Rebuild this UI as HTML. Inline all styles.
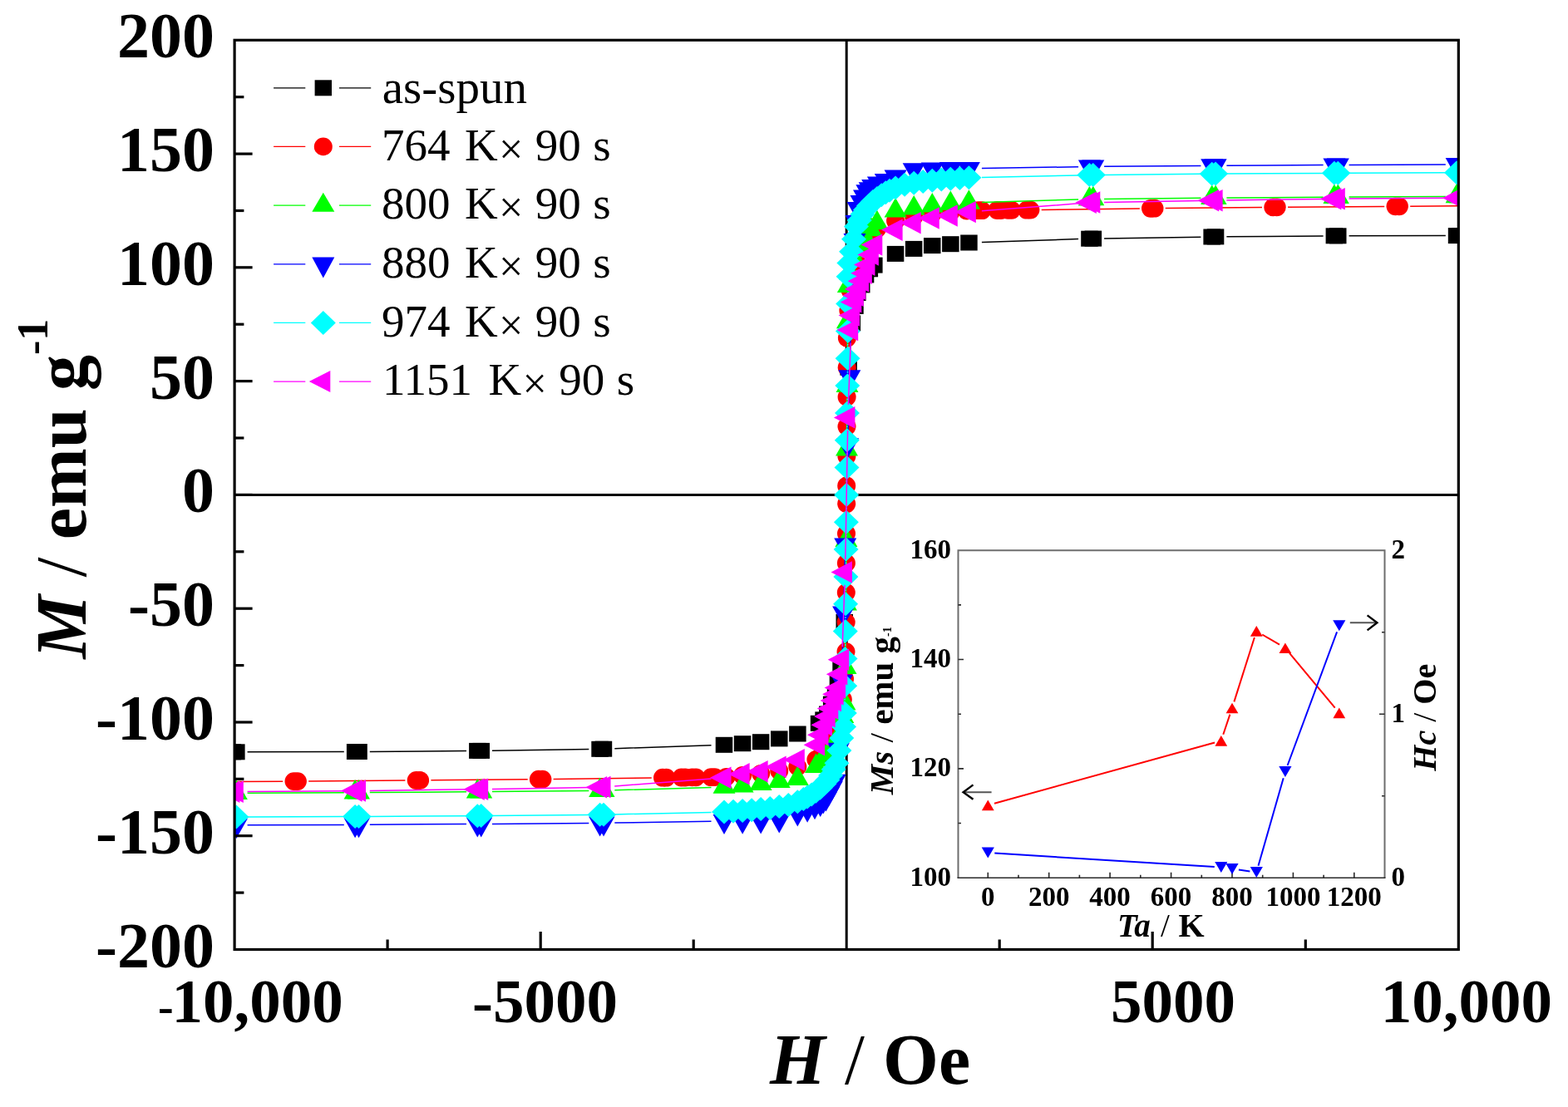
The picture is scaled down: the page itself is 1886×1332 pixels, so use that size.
<!DOCTYPE html><html><head><meta charset="utf-8"><style>html,body{margin:0;padding:0;background:#fff;}svg{display:block;}.b{font-family:"Liberation Serif","Times New Roman",serif;font-weight:bold;}.r{font-family:"Liberation Serif","Times New Roman",serif;font-weight:normal;}</style></head><body>
<svg width="1886" height="1332" viewBox="0 0 1886 1332">
<rect width="1886" height="1332" fill="#fff"/>
<g stroke="#000" stroke-width="3"><line x1="1018.2" y1="48.3" x2="1018.2" y2="1142.5"/><line x1="282.1" y1="595.4" x2="1754.3" y2="595.4"/></g>
<defs><clipPath id="pc"><rect x="282.1" y="48.3" width="1472.2" height="1094.2"/></clipPath></defs>
<g clip-path="url(#pc)">
<path d="M297.6 904.8L413.8 904.5M444.8 904.4L561.0 903.5M592.0 903.2L708.3 901.5M739.3 900.7L855.5 896.8M1012.8 786.2L1014.5 763.9M1016.0 733.0L1020.4 457.7M1021.9 426.8L1023.6 404.3M1180.9 291.5L1297.1 287.6M1328.1 286.9L1444.4 285.2M1475.4 284.8L1591.6 283.9M1622.6 283.8L1738.8 283.6" stroke="#000000" stroke-width="1.5" fill="none"/>
<rect x="269.6" y="895.3" width="20.5" height="19.0" fill="#000000"/>
<rect x="274.1" y="895.3" width="20.5" height="19.0" fill="#000000"/>
<rect x="416.9" y="895.0" width="20.5" height="19.0" fill="#000000"/>
<rect x="421.3" y="895.0" width="20.5" height="19.0" fill="#000000"/>
<rect x="564.1" y="893.9" width="20.5" height="19.0" fill="#000000"/>
<rect x="568.5" y="893.9" width="20.5" height="19.0" fill="#000000"/>
<rect x="711.3" y="891.8" width="20.5" height="19.0" fill="#000000"/>
<rect x="715.7" y="891.7" width="20.5" height="19.0" fill="#000000"/>
<rect x="860.7" y="886.8" width="20.5" height="19.0" fill="#000000"/>
<rect x="882.8" y="885.2" width="20.5" height="19.0" fill="#000000"/>
<rect x="904.9" y="883.2" width="20.5" height="19.0" fill="#000000"/>
<rect x="927.0" y="879.4" width="20.5" height="19.0" fill="#000000"/>
<rect x="949.1" y="873.5" width="20.5" height="19.0" fill="#000000"/>
<rect x="974.8" y="860.8" width="20.5" height="19.0" fill="#000000"/>
<rect x="980.3" y="856.4" width="20.5" height="19.0" fill="#000000"/>
<rect x="985.1" y="849.5" width="20.5" height="19.0" fill="#000000"/>
<rect x="989.9" y="837.6" width="20.5" height="19.0" fill="#000000"/>
<rect x="994.8" y="828.3" width="20.5" height="19.0" fill="#000000"/>
<rect x="997.7" y="812.5" width="20.5" height="19.0" fill="#000000"/>
<rect x="1001.3" y="792.2" width="20.5" height="19.0" fill="#000000"/>
<rect x="1005.5" y="739.0" width="20.5" height="19.0" fill="#000000"/>
<rect x="1010.4" y="432.7" width="20.5" height="19.0" fill="#000000"/>
<rect x="1014.6" y="379.4" width="20.5" height="19.0" fill="#000000"/>
<rect x="1018.2" y="358.9" width="20.5" height="19.0" fill="#000000"/>
<rect x="1021.1" y="343.0" width="20.5" height="19.0" fill="#000000"/>
<rect x="1026.0" y="333.4" width="20.5" height="19.0" fill="#000000"/>
<rect x="1030.8" y="321.4" width="20.5" height="19.0" fill="#000000"/>
<rect x="1035.6" y="314.3" width="20.5" height="19.0" fill="#000000"/>
<rect x="1041.1" y="309.6" width="20.5" height="19.0" fill="#000000"/>
<rect x="1066.8" y="295.9" width="20.5" height="19.0" fill="#000000"/>
<rect x="1088.9" y="289.9" width="20.5" height="19.0" fill="#000000"/>
<rect x="1111.0" y="286.1" width="20.5" height="19.0" fill="#000000"/>
<rect x="1133.1" y="284.2" width="20.5" height="19.0" fill="#000000"/>
<rect x="1155.2" y="282.5" width="20.5" height="19.0" fill="#000000"/>
<rect x="1300.2" y="277.7" width="20.5" height="19.0" fill="#000000"/>
<rect x="1304.6" y="277.6" width="20.5" height="19.0" fill="#000000"/>
<rect x="1447.4" y="275.5" width="20.5" height="19.0" fill="#000000"/>
<rect x="1451.8" y="275.4" width="20.5" height="19.0" fill="#000000"/>
<rect x="1594.6" y="274.3" width="20.5" height="19.0" fill="#000000"/>
<rect x="1599.0" y="274.3" width="20.5" height="19.0" fill="#000000"/>
<rect x="1741.8" y="274.1" width="20.5" height="19.0" fill="#000000"/>
<rect x="1746.3" y="274.0" width="20.5" height="19.0" fill="#000000"/>
<path d="M224.0 940.8L340.2 940.2M371.2 940.0L487.4 939.1M518.4 938.8L634.7 937.8M665.6 937.4L783.7 935.9M1016.7 801.4L1016.8 799.6M1017.6 768.6L1017.6 764.1M1017.7 733.1L1017.7 728.5M1017.8 697.5L1017.8 693.0M1018.0 662.0L1018.0 657.4M1018.1 626.4L1018.1 621.8M1018.3 569.0L1018.3 564.4M1018.4 533.4L1018.4 528.8M1018.6 497.8L1018.6 493.3M1018.7 462.3L1018.7 457.7M1018.8 426.7L1018.8 422.2M1019.6 391.2L1019.7 389.3M1252.7 252.4L1370.8 250.9M1401.7 250.6L1518.0 249.5M1549.0 249.2L1665.2 248.4M1696.2 248.2L1812.4 247.5" stroke="#ff0000" stroke-width="1.5" fill="none"/>
<ellipse cx="206.3" cy="940.9" rx="11.0" ry="10.9" fill="#ff0000"/>
<ellipse cx="210.7" cy="940.9" rx="11.0" ry="10.9" fill="#ff0000"/>
<ellipse cx="353.5" cy="940.1" rx="11.0" ry="10.9" fill="#ff0000"/>
<ellipse cx="357.9" cy="940.1" rx="11.0" ry="10.9" fill="#ff0000"/>
<ellipse cx="500.7" cy="939.0" rx="11.0" ry="10.9" fill="#ff0000"/>
<ellipse cx="505.1" cy="939.0" rx="11.0" ry="10.9" fill="#ff0000"/>
<ellipse cx="647.9" cy="937.6" rx="11.0" ry="10.9" fill="#ff0000"/>
<ellipse cx="652.4" cy="937.6" rx="11.0" ry="10.9" fill="#ff0000"/>
<ellipse cx="797.0" cy="935.7" rx="11.0" ry="10.9" fill="#ff0000"/>
<ellipse cx="801.4" cy="935.7" rx="11.0" ry="10.9" fill="#ff0000"/>
<ellipse cx="819.6" cy="935.5" rx="11.0" ry="10.9" fill="#ff0000"/>
<ellipse cx="824.0" cy="935.5" rx="11.0" ry="10.9" fill="#ff0000"/>
<ellipse cx="832.6" cy="935.4" rx="11.0" ry="10.9" fill="#ff0000"/>
<ellipse cx="837.0" cy="935.3" rx="11.0" ry="10.9" fill="#ff0000"/>
<ellipse cx="855.3" cy="935.2" rx="11.0" ry="10.9" fill="#ff0000"/>
<ellipse cx="859.7" cy="935.1" rx="11.0" ry="10.9" fill="#ff0000"/>
<ellipse cx="873.6" cy="934.8" rx="11.0" ry="10.9" fill="#ff0000"/>
<ellipse cx="893.1" cy="933.0" rx="11.0" ry="10.9" fill="#ff0000"/>
<ellipse cx="915.1" cy="930.8" rx="11.0" ry="10.9" fill="#ff0000"/>
<ellipse cx="937.2" cy="927.5" rx="11.0" ry="10.9" fill="#ff0000"/>
<ellipse cx="959.3" cy="922.6" rx="11.0" ry="10.9" fill="#ff0000"/>
<ellipse cx="981.4" cy="913.9" rx="11.0" ry="10.9" fill="#ff0000"/>
<ellipse cx="988.8" cy="907.4" rx="11.0" ry="10.9" fill="#ff0000"/>
<ellipse cx="996.1" cy="900.9" rx="11.0" ry="10.9" fill="#ff0000"/>
<ellipse cx="1002.0" cy="888.0" rx="11.0" ry="10.9" fill="#ff0000"/>
<ellipse cx="1007.2" cy="876.7" rx="11.0" ry="10.9" fill="#ff0000"/>
<ellipse cx="1010.8" cy="857.1" rx="11.0" ry="10.9" fill="#ff0000"/>
<ellipse cx="1013.8" cy="841.4" rx="11.0" ry="10.9" fill="#ff0000"/>
<ellipse cx="1016.0" cy="816.9" rx="11.0" ry="10.9" fill="#ff0000"/>
<ellipse cx="1017.5" cy="784.1" rx="11.0" ry="10.9" fill="#ff0000"/>
<ellipse cx="1017.7" cy="748.6" rx="11.0" ry="10.9" fill="#ff0000"/>
<ellipse cx="1017.8" cy="713.0" rx="11.0" ry="10.9" fill="#ff0000"/>
<ellipse cx="1017.9" cy="677.5" rx="11.0" ry="10.9" fill="#ff0000"/>
<ellipse cx="1018.0" cy="641.9" rx="11.0" ry="10.9" fill="#ff0000"/>
<ellipse cx="1018.2" cy="606.3" rx="11.0" ry="10.9" fill="#ff0000"/>
<ellipse cx="1018.2" cy="584.5" rx="11.0" ry="10.9" fill="#ff0000"/>
<ellipse cx="1018.4" cy="548.9" rx="11.0" ry="10.9" fill="#ff0000"/>
<ellipse cx="1018.5" cy="513.3" rx="11.0" ry="10.9" fill="#ff0000"/>
<ellipse cx="1018.6" cy="477.8" rx="11.0" ry="10.9" fill="#ff0000"/>
<ellipse cx="1018.7" cy="442.2" rx="11.0" ry="10.9" fill="#ff0000"/>
<ellipse cx="1018.9" cy="406.7" rx="11.0" ry="10.9" fill="#ff0000"/>
<ellipse cx="1020.4" cy="373.8" rx="11.0" ry="10.9" fill="#ff0000"/>
<ellipse cx="1022.6" cy="349.2" rx="11.0" ry="10.9" fill="#ff0000"/>
<ellipse cx="1025.6" cy="333.4" rx="11.0" ry="10.9" fill="#ff0000"/>
<ellipse cx="1029.2" cy="313.6" rx="11.0" ry="10.9" fill="#ff0000"/>
<ellipse cx="1034.4" cy="302.2" rx="11.0" ry="10.9" fill="#ff0000"/>
<ellipse cx="1040.3" cy="289.0" rx="11.0" ry="10.9" fill="#ff0000"/>
<ellipse cx="1047.6" cy="282.2" rx="11.0" ry="10.9" fill="#ff0000"/>
<ellipse cx="1055.0" cy="275.3" rx="11.0" ry="10.9" fill="#ff0000"/>
<ellipse cx="1077.1" cy="265.8" rx="11.0" ry="10.9" fill="#ff0000"/>
<ellipse cx="1099.2" cy="260.8" rx="11.0" ry="10.9" fill="#ff0000"/>
<ellipse cx="1121.3" cy="257.6" rx="11.0" ry="10.9" fill="#ff0000"/>
<ellipse cx="1143.3" cy="255.4" rx="11.0" ry="10.9" fill="#ff0000"/>
<ellipse cx="1162.8" cy="253.5" rx="11.0" ry="10.9" fill="#ff0000"/>
<ellipse cx="1176.7" cy="253.2" rx="11.0" ry="10.9" fill="#ff0000"/>
<ellipse cx="1181.1" cy="253.2" rx="11.0" ry="10.9" fill="#ff0000"/>
<ellipse cx="1199.4" cy="253.0" rx="11.0" ry="10.9" fill="#ff0000"/>
<ellipse cx="1203.8" cy="253.0" rx="11.0" ry="10.9" fill="#ff0000"/>
<ellipse cx="1212.4" cy="252.9" rx="11.0" ry="10.9" fill="#ff0000"/>
<ellipse cx="1216.8" cy="252.8" rx="11.0" ry="10.9" fill="#ff0000"/>
<ellipse cx="1235.0" cy="252.7" rx="11.0" ry="10.9" fill="#ff0000"/>
<ellipse cx="1239.4" cy="252.6" rx="11.0" ry="10.9" fill="#ff0000"/>
<ellipse cx="1384.0" cy="250.8" rx="11.0" ry="10.9" fill="#ff0000"/>
<ellipse cx="1388.5" cy="250.7" rx="11.0" ry="10.9" fill="#ff0000"/>
<ellipse cx="1531.3" cy="249.4" rx="11.0" ry="10.9" fill="#ff0000"/>
<ellipse cx="1535.7" cy="249.3" rx="11.0" ry="10.9" fill="#ff0000"/>
<ellipse cx="1678.5" cy="248.3" rx="11.0" ry="10.9" fill="#ff0000"/>
<ellipse cx="1682.9" cy="248.3" rx="11.0" ry="10.9" fill="#ff0000"/>
<ellipse cx="1825.7" cy="247.5" rx="11.0" ry="10.9" fill="#ff0000"/>
<ellipse cx="1830.1" cy="247.4" rx="11.0" ry="10.9" fill="#ff0000"/>
<path d="M297.6 954.2L413.8 953.8M444.8 953.6L561.0 952.8M592.0 952.5L708.3 951.4M739.3 950.8L855.5 947.4M1016.3 831.2L1016.6 818.8M1017.0 787.8L1017.3 742.2M1017.5 711.2L1017.8 665.6M1018.0 634.6L1018.4 556.2M1018.6 525.2L1018.9 479.6M1019.1 448.6L1019.4 403.0M1019.8 372.0L1020.1 359.6M1180.9 243.4L1297.1 240.0M1328.1 239.4L1444.4 238.3M1475.4 238.0L1591.6 237.2M1622.6 237.0L1738.8 236.6" stroke="#00ff00" stroke-width="1.5" fill="none"/>
<path d="M279.9 938.6L293.4 962.1L266.4 962.1Z" fill="#00ff00"/>
<path d="M284.3 938.6L297.8 962.1L270.8 962.1Z" fill="#00ff00"/>
<path d="M427.1 938.1L440.6 961.6L413.6 961.6Z" fill="#00ff00"/>
<path d="M431.5 938.1L445.0 961.6L418.0 961.6Z" fill="#00ff00"/>
<path d="M574.3 937.0L587.8 960.5L560.8 960.5Z" fill="#00ff00"/>
<path d="M578.7 937.0L592.2 960.5L565.2 960.5Z" fill="#00ff00"/>
<path d="M721.6 935.6L735.1 959.1L708.1 959.1Z" fill="#00ff00"/>
<path d="M726.0 935.6L739.5 959.1L712.5 959.1Z" fill="#00ff00"/>
<path d="M871.0 931.3L884.5 954.8L857.5 954.8Z" fill="#00ff00"/>
<path d="M893.1 929.9L906.6 953.4L879.6 953.4Z" fill="#00ff00"/>
<path d="M915.1 927.5L928.6 951.0L901.6 951.0Z" fill="#00ff00"/>
<path d="M937.2 924.6L950.7 948.1L923.7 948.1Z" fill="#00ff00"/>
<path d="M959.3 921.4L972.8 944.9L945.8 944.9Z" fill="#00ff00"/>
<path d="M981.5 906.6L995.0 930.1L968.0 930.1Z" fill="#00ff00"/>
<path d="M988.8 898.6L1002.3 922.1L975.3 922.1Z" fill="#00ff00"/>
<path d="M996.4 890.2L1009.9 913.7L982.9 913.7Z" fill="#00ff00"/>
<path d="M1002.0 881.2L1015.5 904.7L988.5 904.7Z" fill="#00ff00"/>
<path d="M1007.2 872.9L1020.7 896.4L993.7 896.4Z" fill="#00ff00"/>
<path d="M1010.8 867.0L1024.3 890.5L997.3 890.5Z" fill="#00ff00"/>
<path d="M1013.8 846.4L1027.3 869.9L1000.3 869.9Z" fill="#00ff00"/>
<path d="M1016.0 831.1L1029.5 854.6L1002.5 854.6Z" fill="#00ff00"/>
<path d="M1017.0 787.6L1030.5 811.1L1003.5 811.1Z" fill="#00ff00"/>
<path d="M1017.4 711.0L1030.9 734.5L1003.9 734.5Z" fill="#00ff00"/>
<path d="M1017.9 634.4L1031.4 657.9L1004.4 657.9Z" fill="#00ff00"/>
<path d="M1018.5 525.0L1032.0 548.5L1005.0 548.5Z" fill="#00ff00"/>
<path d="M1019.0 448.4L1032.5 471.9L1005.5 471.9Z" fill="#00ff00"/>
<path d="M1019.4 371.8L1032.9 395.3L1005.9 395.3Z" fill="#00ff00"/>
<path d="M1020.4 328.4L1033.9 351.9L1006.9 351.9Z" fill="#00ff00"/>
<path d="M1022.6 313.0L1036.1 336.5L1009.1 336.5Z" fill="#00ff00"/>
<path d="M1025.6 292.5L1039.1 316.0L1012.1 316.0Z" fill="#00ff00"/>
<path d="M1029.2 286.6L1042.7 310.1L1015.7 310.1Z" fill="#00ff00"/>
<path d="M1034.4 278.3L1047.9 301.8L1020.9 301.8Z" fill="#00ff00"/>
<path d="M1040.0 269.3L1053.5 292.8L1026.5 292.8Z" fill="#00ff00"/>
<path d="M1047.6 260.8L1061.1 284.3L1034.1 284.3Z" fill="#00ff00"/>
<path d="M1054.9 252.8L1068.4 276.3L1041.4 276.3Z" fill="#00ff00"/>
<path d="M1077.1 238.1L1090.6 261.6L1063.6 261.6Z" fill="#00ff00"/>
<path d="M1099.2 234.9L1112.7 258.4L1085.7 258.4Z" fill="#00ff00"/>
<path d="M1121.3 231.9L1134.8 255.4L1107.8 255.4Z" fill="#00ff00"/>
<path d="M1143.3 229.5L1156.8 253.0L1129.8 253.0Z" fill="#00ff00"/>
<path d="M1165.4 228.2L1178.9 251.7L1151.9 251.7Z" fill="#00ff00"/>
<path d="M1310.4 223.9L1323.9 247.4L1296.9 247.4Z" fill="#00ff00"/>
<path d="M1314.8 223.8L1328.3 247.3L1301.3 247.3Z" fill="#00ff00"/>
<path d="M1457.7 222.5L1471.2 246.0L1444.2 246.0Z" fill="#00ff00"/>
<path d="M1462.1 222.5L1475.6 246.0L1448.6 246.0Z" fill="#00ff00"/>
<path d="M1604.9 221.4L1618.4 244.9L1591.4 244.9Z" fill="#00ff00"/>
<path d="M1609.3 221.4L1622.8 244.9L1595.8 244.9Z" fill="#00ff00"/>
<path d="M1752.1 220.8L1765.6 244.3L1738.6 244.3Z" fill="#00ff00"/>
<path d="M1756.5 220.8L1770.0 244.3L1743.0 244.3Z" fill="#00ff00"/>
<path d="M297.6 992.8L413.8 992.4M444.8 992.2L561.0 991.6M592.0 991.4L708.3 990.5M739.3 990.1L855.5 988.2M1009.2 886.3L1011.7 835.2M1012.8 804.2L1014.2 753.1M1015.0 722.2L1016.3 671.1M1017.1 640.1L1019.3 550.7M1020.1 519.7L1021.4 468.6M1022.2 437.7L1023.6 386.6M1024.7 355.6L1027.2 304.5M1180.9 202.6L1297.1 200.7M1328.1 200.3L1444.4 199.4M1475.4 199.2L1591.6 198.6M1622.6 198.4L1738.8 198.0" stroke="#0000ff" stroke-width="1.5" fill="none"/>
<path d="M279.9 1008.9L293.4 984.9L266.4 984.9Z" fill="#0000ff"/>
<path d="M284.3 1008.9L297.8 984.9L270.8 984.9Z" fill="#0000ff"/>
<path d="M427.1 1008.3L440.6 984.3L413.6 984.3Z" fill="#0000ff"/>
<path d="M431.5 1008.3L445.0 984.3L418.0 984.3Z" fill="#0000ff"/>
<path d="M574.3 1007.5L587.8 983.5L560.8 983.5Z" fill="#0000ff"/>
<path d="M578.7 1007.5L592.2 983.5L565.2 983.5Z" fill="#0000ff"/>
<path d="M721.6 1006.4L735.1 982.4L708.1 982.4Z" fill="#0000ff"/>
<path d="M726.0 1006.4L739.5 982.4L712.5 982.4Z" fill="#0000ff"/>
<path d="M871.0 1003.9L884.5 979.9L857.5 979.9Z" fill="#0000ff"/>
<path d="M893.1 1003.7L906.6 979.7L879.6 979.7Z" fill="#0000ff"/>
<path d="M915.1 1003.4L928.6 979.4L901.6 979.4Z" fill="#0000ff"/>
<path d="M937.2 1002.6L950.7 978.6L923.7 978.6Z" fill="#0000ff"/>
<path d="M959.3 994.4L972.8 970.4L945.8 970.4Z" fill="#0000ff"/>
<path d="M971.1 989.7L984.6 965.7L957.6 965.7Z" fill="#0000ff"/>
<path d="M980.0 986.2L993.5 962.2L966.5 962.2Z" fill="#0000ff"/>
<path d="M986.7 982.9L1000.2 958.9L973.2 958.9Z" fill="#0000ff"/>
<path d="M990.2 979.6L1003.7 955.6L976.7 955.6Z" fill="#0000ff"/>
<path d="M993.5 976.6L1007.0 952.6L980.0 952.6Z" fill="#0000ff"/>
<path d="M996.9 970.3L1010.4 946.3L983.4 946.3Z" fill="#0000ff"/>
<path d="M1000.4 963.7L1013.9 939.7L986.9 939.7Z" fill="#0000ff"/>
<path d="M1004.2 955.8L1017.7 931.8L990.7 931.8Z" fill="#0000ff"/>
<path d="M1006.4 939.7L1019.9 915.7L992.9 915.7Z" fill="#0000ff"/>
<path d="M1008.4 917.8L1021.9 893.8L994.9 893.8Z" fill="#0000ff"/>
<path d="M1012.5 835.7L1026.0 811.7L999.0 811.7Z" fill="#0000ff"/>
<path d="M1014.6 753.6L1028.1 729.6L1001.1 729.6Z" fill="#0000ff"/>
<path d="M1016.7 671.6L1030.2 647.6L1003.2 647.6Z" fill="#0000ff"/>
<path d="M1019.7 551.2L1033.2 527.2L1006.2 527.2Z" fill="#0000ff"/>
<path d="M1021.8 469.2L1035.3 445.2L1008.3 445.2Z" fill="#0000ff"/>
<path d="M1023.9 387.1L1037.4 363.1L1010.4 363.1Z" fill="#0000ff"/>
<path d="M1028.0 305.0L1041.5 281.0L1014.5 281.0Z" fill="#0000ff"/>
<path d="M1030.0 283.1L1043.5 259.1L1016.5 259.1Z" fill="#0000ff"/>
<path d="M1032.2 267.0L1045.7 243.0L1018.7 243.0Z" fill="#0000ff"/>
<path d="M1036.0 259.1L1049.5 235.1L1022.5 235.1Z" fill="#0000ff"/>
<path d="M1039.5 252.5L1053.0 228.5L1026.0 228.5Z" fill="#0000ff"/>
<path d="M1042.9 246.2L1056.4 222.2L1029.4 222.2Z" fill="#0000ff"/>
<path d="M1046.2 243.2L1059.7 219.2L1032.7 219.2Z" fill="#0000ff"/>
<path d="M1049.7 239.9L1063.2 215.9L1036.2 215.9Z" fill="#0000ff"/>
<path d="M1056.4 236.6L1069.9 212.6L1042.9 212.6Z" fill="#0000ff"/>
<path d="M1065.3 233.1L1078.8 209.1L1051.8 209.1Z" fill="#0000ff"/>
<path d="M1077.1 228.4L1090.6 204.4L1063.6 204.4Z" fill="#0000ff"/>
<path d="M1099.2 220.2L1112.7 196.2L1085.7 196.2Z" fill="#0000ff"/>
<path d="M1121.3 219.4L1134.8 195.4L1107.8 195.4Z" fill="#0000ff"/>
<path d="M1143.3 219.1L1156.8 195.1L1129.8 195.1Z" fill="#0000ff"/>
<path d="M1165.4 218.9L1178.9 194.9L1151.9 194.9Z" fill="#0000ff"/>
<path d="M1310.4 216.4L1323.9 192.4L1296.9 192.4Z" fill="#0000ff"/>
<path d="M1314.8 216.4L1328.3 192.4L1301.3 192.4Z" fill="#0000ff"/>
<path d="M1457.7 215.3L1471.2 191.3L1444.2 191.3Z" fill="#0000ff"/>
<path d="M1462.1 215.3L1475.6 191.3L1448.6 191.3Z" fill="#0000ff"/>
<path d="M1604.9 214.5L1618.4 190.5L1591.4 190.5Z" fill="#0000ff"/>
<path d="M1609.3 214.5L1622.8 190.5L1595.8 190.5Z" fill="#0000ff"/>
<path d="M1752.1 213.9L1765.6 189.9L1738.6 189.9Z" fill="#0000ff"/>
<path d="M1756.5 213.9L1770.0 189.9L1743.0 189.9Z" fill="#0000ff"/>
<path d="M297.6 983.0L413.8 982.5M444.8 982.4L561.0 981.7M592.0 981.5L708.3 980.4M739.3 979.9L855.5 977.4M1016.0 842.5L1016.1 840.7M1016.4 809.7L1016.4 807.9M1016.7 776.9L1016.7 775.0M1016.9 744.0L1017.0 742.2M1017.2 711.2L1017.2 709.4M1017.5 678.4L1017.5 676.6M1017.8 645.6L1017.8 643.7M1018.1 612.7L1018.1 610.9M1018.3 579.9L1018.3 578.1M1018.6 547.1L1018.6 545.2M1018.9 514.2L1018.9 512.4M1019.2 481.4L1019.2 479.6M1019.4 448.6L1019.5 446.8M1019.7 415.8L1019.7 413.9M1020.0 382.9L1020.0 381.1M1020.3 350.1L1020.4 348.3M1180.9 213.4L1297.1 210.9M1328.1 210.4L1444.4 209.3M1475.4 209.1L1591.6 208.4M1622.6 208.3L1738.8 207.8" stroke="#00ffff" stroke-width="1.5" fill="none"/>
<path d="M279.9 968.5L294.9 983.0L279.9 997.5L264.9 983.0Z" fill="#00ffff"/>
<path d="M284.3 968.5L299.3 983.0L284.3 997.5L269.3 983.0Z" fill="#00ffff"/>
<path d="M427.1 968.0L442.1 982.5L427.1 997.0L412.1 982.5Z" fill="#00ffff"/>
<path d="M431.5 968.0L446.5 982.5L431.5 997.0L416.5 982.5Z" fill="#00ffff"/>
<path d="M574.3 967.2L589.3 981.7L574.3 996.2L559.3 981.7Z" fill="#00ffff"/>
<path d="M578.7 967.1L593.7 981.6L578.7 996.1L563.7 981.6Z" fill="#00ffff"/>
<path d="M721.6 965.8L736.6 980.3L721.6 994.8L706.6 980.3Z" fill="#00ffff"/>
<path d="M726.0 965.7L741.0 980.2L726.0 994.7L711.0 980.2Z" fill="#00ffff"/>
<path d="M871.0 962.5L886.0 977.0L871.0 991.5L856.0 977.0Z" fill="#00ffff"/>
<path d="M882.0 961.8L897.0 976.3L882.0 990.8L867.0 976.3Z" fill="#00ffff"/>
<path d="M893.1 961.1L908.1 975.6L893.1 990.1L878.1 975.6Z" fill="#00ffff"/>
<path d="M904.1 960.3L919.1 974.8L904.1 989.3L889.1 974.8Z" fill="#00ffff"/>
<path d="M915.1 959.1L930.1 973.6L915.1 988.1L900.1 973.6Z" fill="#00ffff"/>
<path d="M926.2 957.9L941.2 972.4L926.2 986.9L911.2 972.4Z" fill="#00ffff"/>
<path d="M937.2 956.0L952.2 970.5L937.2 985.0L922.2 970.5Z" fill="#00ffff"/>
<path d="M948.3 954.0L963.3 968.5L948.3 983.0L933.3 968.5Z" fill="#00ffff"/>
<path d="M959.3 950.3L974.3 964.8L959.3 979.3L944.3 964.8Z" fill="#00ffff"/>
<path d="M966.4 947.0L981.4 961.5L966.4 976.0L951.4 961.5Z" fill="#00ffff"/>
<path d="M971.1 944.5L986.1 959.0L971.1 973.5L956.1 959.0Z" fill="#00ffff"/>
<path d="M976.2 941.5L991.2 956.0L976.2 970.5L961.2 956.0Z" fill="#00ffff"/>
<path d="M981.4 937.8L996.4 952.3L981.4 966.8L966.4 952.3Z" fill="#00ffff"/>
<path d="M986.5 933.7L1001.5 948.2L986.5 962.7L971.5 948.2Z" fill="#00ffff"/>
<path d="M991.4 928.8L1006.4 943.3L991.4 957.8L976.4 943.3Z" fill="#00ffff"/>
<path d="M995.4 923.9L1010.4 938.4L995.4 952.9L980.4 938.4Z" fill="#00ffff"/>
<path d="M999.1 918.4L1014.1 932.9L999.1 947.4L984.1 932.9Z" fill="#00ffff"/>
<path d="M1002.7 911.3L1017.7 925.8L1002.7 940.3L987.7 925.8Z" fill="#00ffff"/>
<path d="M1006.4 903.7L1021.4 918.2L1006.4 932.7L991.4 918.2Z" fill="#00ffff"/>
<path d="M1009.4 888.6L1024.4 903.1L1009.4 917.6L994.4 903.1Z" fill="#00ffff"/>
<path d="M1012.3 873.5L1027.3 888.0L1012.3 902.5L997.3 888.0Z" fill="#00ffff"/>
<path d="M1015.0 859.9L1030.0 874.4L1015.0 888.9L1000.0 874.4Z" fill="#00ffff"/>
<path d="M1015.8 843.5L1030.8 858.0L1015.8 872.5L1000.8 858.0Z" fill="#00ffff"/>
<path d="M1016.2 810.7L1031.2 825.2L1016.2 839.7L1001.2 825.2Z" fill="#00ffff"/>
<path d="M1016.5 777.9L1031.5 792.4L1016.5 806.9L1001.5 792.4Z" fill="#00ffff"/>
<path d="M1016.8 745.0L1031.8 759.5L1016.8 774.0L1001.8 759.5Z" fill="#00ffff"/>
<path d="M1017.1 712.2L1032.1 726.7L1017.1 741.2L1002.1 726.7Z" fill="#00ffff"/>
<path d="M1017.4 679.4L1032.4 693.9L1017.4 708.4L1002.4 693.9Z" fill="#00ffff"/>
<path d="M1017.6 646.6L1032.6 661.1L1017.6 675.6L1002.6 661.1Z" fill="#00ffff"/>
<path d="M1017.9 613.7L1032.9 628.2L1017.9 642.7L1002.9 628.2Z" fill="#00ffff"/>
<path d="M1018.2 580.9L1033.2 595.4L1018.2 609.9L1003.2 595.4Z" fill="#00ffff"/>
<path d="M1018.5 548.1L1033.5 562.6L1018.5 577.1L1003.5 562.6Z" fill="#00ffff"/>
<path d="M1018.8 515.2L1033.8 529.7L1018.8 544.2L1003.8 529.7Z" fill="#00ffff"/>
<path d="M1019.0 482.4L1034.0 496.9L1019.0 511.4L1004.0 496.9Z" fill="#00ffff"/>
<path d="M1019.3 449.6L1034.3 464.1L1019.3 478.6L1004.3 464.1Z" fill="#00ffff"/>
<path d="M1019.6 416.8L1034.6 431.3L1019.6 445.8L1004.6 431.3Z" fill="#00ffff"/>
<path d="M1019.9 383.9L1034.9 398.4L1019.9 412.9L1004.9 398.4Z" fill="#00ffff"/>
<path d="M1020.2 351.1L1035.2 365.6L1020.2 380.1L1005.2 365.6Z" fill="#00ffff"/>
<path d="M1020.6 318.3L1035.6 332.8L1020.6 347.3L1005.6 332.8Z" fill="#00ffff"/>
<path d="M1021.4 301.9L1036.4 316.4L1021.4 330.9L1006.4 316.4Z" fill="#00ffff"/>
<path d="M1024.1 288.3L1039.1 302.8L1024.1 317.3L1009.1 302.8Z" fill="#00ffff"/>
<path d="M1027.0 273.2L1042.0 287.7L1027.0 302.2L1012.0 287.7Z" fill="#00ffff"/>
<path d="M1030.0 258.1L1045.0 272.6L1030.0 287.1L1015.0 272.6Z" fill="#00ffff"/>
<path d="M1033.7 250.5L1048.7 265.0L1033.7 279.5L1018.7 265.0Z" fill="#00ffff"/>
<path d="M1037.3 243.4L1052.3 257.9L1037.3 272.4L1022.3 257.9Z" fill="#00ffff"/>
<path d="M1041.0 237.9L1056.0 252.4L1041.0 266.9L1026.0 252.4Z" fill="#00ffff"/>
<path d="M1045.0 233.0L1060.0 247.5L1045.0 262.0L1030.0 247.5Z" fill="#00ffff"/>
<path d="M1049.9 228.1L1064.9 242.6L1049.9 257.1L1034.9 242.6Z" fill="#00ffff"/>
<path d="M1055.0 224.0L1070.0 238.5L1055.0 253.0L1040.0 238.5Z" fill="#00ffff"/>
<path d="M1060.2 220.3L1075.2 234.8L1060.2 249.3L1045.2 234.8Z" fill="#00ffff"/>
<path d="M1065.3 217.3L1080.3 231.8L1065.3 246.3L1050.3 231.8Z" fill="#00ffff"/>
<path d="M1070.0 214.8L1085.0 229.3L1070.0 243.8L1055.0 229.3Z" fill="#00ffff"/>
<path d="M1077.1 211.5L1092.1 226.0L1077.1 240.5L1062.1 226.0Z" fill="#00ffff"/>
<path d="M1088.1 207.8L1103.1 222.3L1088.1 236.8L1073.1 222.3Z" fill="#00ffff"/>
<path d="M1099.2 205.8L1114.2 220.3L1099.2 234.8L1084.2 220.3Z" fill="#00ffff"/>
<path d="M1110.2 203.9L1125.2 218.4L1110.2 232.9L1095.2 218.4Z" fill="#00ffff"/>
<path d="M1121.3 202.7L1136.3 217.2L1121.3 231.7L1106.3 217.2Z" fill="#00ffff"/>
<path d="M1132.3 201.5L1147.3 216.0L1132.3 230.5L1117.3 216.0Z" fill="#00ffff"/>
<path d="M1143.3 200.7L1158.3 215.2L1143.3 229.7L1128.3 215.2Z" fill="#00ffff"/>
<path d="M1154.4 200.0L1169.4 214.5L1154.4 229.0L1139.4 214.5Z" fill="#00ffff"/>
<path d="M1165.4 199.3L1180.4 213.8L1165.4 228.3L1150.4 213.8Z" fill="#00ffff"/>
<path d="M1310.4 196.1L1325.4 210.6L1310.4 225.1L1295.4 210.6Z" fill="#00ffff"/>
<path d="M1314.8 196.0L1329.8 210.5L1314.8 225.0L1299.8 210.5Z" fill="#00ffff"/>
<path d="M1457.7 194.7L1472.7 209.2L1457.7 223.7L1442.7 209.2Z" fill="#00ffff"/>
<path d="M1462.1 194.6L1477.1 209.1L1462.1 223.6L1447.1 209.1Z" fill="#00ffff"/>
<path d="M1604.9 193.8L1619.9 208.3L1604.9 222.8L1589.9 208.3Z" fill="#00ffff"/>
<path d="M1609.3 193.8L1624.3 208.3L1609.3 222.8L1594.3 208.3Z" fill="#00ffff"/>
<path d="M1752.1 193.3L1767.1 207.8L1752.1 222.3L1737.1 207.8Z" fill="#00ffff"/>
<path d="M1756.5 193.3L1771.5 207.8L1756.5 222.3L1741.5 207.8Z" fill="#00ffff"/>
<path d="M297.6 952.5L413.8 951.7M444.8 951.4L561.0 949.8M592.0 949.4L708.3 947.4M739.2 946.0L855.5 937.0M1013.2 778.2L1016.0 703.9M1016.8 672.9L1019.6 517.9M1020.4 486.9L1023.2 412.6M1180.9 253.8L1297.2 244.8M1328.1 243.4L1444.4 241.4M1475.4 241.0L1591.6 239.4M1622.6 239.1L1738.8 238.3" stroke="#ff00ff" stroke-width="1.5" fill="none"/>
<path d="M262.9 952.7L288.4 939.4L288.4 965.9Z" fill="#ff00ff"/>
<path d="M267.3 952.6L292.8 939.4L292.8 965.9Z" fill="#ff00ff"/>
<path d="M410.1 951.6L435.6 938.3L435.6 964.8Z" fill="#ff00ff"/>
<path d="M414.5 951.5L440.0 938.3L440.0 964.8Z" fill="#ff00ff"/>
<path d="M557.3 949.7L582.8 936.4L582.8 962.9Z" fill="#ff00ff"/>
<path d="M561.7 949.6L587.2 936.4L587.2 962.9Z" fill="#ff00ff"/>
<path d="M704.6 947.2L730.1 934.0L730.1 960.5Z" fill="#ff00ff"/>
<path d="M709.0 947.0L734.5 933.8L734.5 960.3Z" fill="#ff00ff"/>
<path d="M854.0 935.8L879.5 922.6L879.5 949.1Z" fill="#ff00ff"/>
<path d="M876.1 931.4L901.6 918.1L901.6 944.6Z" fill="#ff00ff"/>
<path d="M898.1 928.3L923.6 915.0L923.6 941.5Z" fill="#ff00ff"/>
<path d="M920.2 922.7L945.7 909.4L945.7 935.9Z" fill="#ff00ff"/>
<path d="M942.3 914.2L967.8 900.9L967.8 927.4Z" fill="#ff00ff"/>
<path d="M966.6 896.3L992.1 883.1L992.1 909.6Z" fill="#ff00ff"/>
<path d="M971.0 884.2L996.5 871.0L996.5 897.5Z" fill="#ff00ff"/>
<path d="M975.4 872.2L1000.9 858.9L1000.9 885.4Z" fill="#ff00ff"/>
<path d="M979.1 862.1L1004.6 848.9L1004.6 875.4Z" fill="#ff00ff"/>
<path d="M982.8 852.5L1008.3 839.3L1008.3 865.8Z" fill="#ff00ff"/>
<path d="M986.5 843.0L1012.0 829.7L1012.0 856.2Z" fill="#ff00ff"/>
<path d="M989.1 835.2L1014.6 821.9L1014.6 848.4Z" fill="#ff00ff"/>
<path d="M991.6 827.4L1017.1 814.2L1017.1 840.7Z" fill="#ff00ff"/>
<path d="M993.8 811.2L1019.3 798.0L1019.3 824.5Z" fill="#ff00ff"/>
<path d="M995.7 793.7L1021.2 780.5L1021.2 807.0Z" fill="#ff00ff"/>
<path d="M999.5 688.4L1025.0 675.2L1025.0 701.7Z" fill="#ff00ff"/>
<path d="M1002.9 502.4L1028.4 489.1L1028.4 515.6Z" fill="#ff00ff"/>
<path d="M1006.7 397.1L1032.2 383.8L1032.2 410.3Z" fill="#ff00ff"/>
<path d="M1008.6 379.6L1034.1 366.3L1034.1 392.8Z" fill="#ff00ff"/>
<path d="M1010.8 363.4L1036.3 350.1L1036.3 376.6Z" fill="#ff00ff"/>
<path d="M1013.3 355.6L1038.8 342.4L1038.8 368.9Z" fill="#ff00ff"/>
<path d="M1015.9 347.8L1041.4 334.6L1041.4 361.1Z" fill="#ff00ff"/>
<path d="M1019.6 338.3L1045.1 325.0L1045.1 351.5Z" fill="#ff00ff"/>
<path d="M1023.3 328.7L1048.8 315.4L1048.8 341.9Z" fill="#ff00ff"/>
<path d="M1027.0 318.6L1052.5 305.4L1052.5 331.9Z" fill="#ff00ff"/>
<path d="M1031.4 306.6L1056.9 293.3L1056.9 319.8Z" fill="#ff00ff"/>
<path d="M1035.8 294.5L1061.3 281.2L1061.3 307.7Z" fill="#ff00ff"/>
<path d="M1060.1 276.6L1085.6 263.4L1085.6 289.9Z" fill="#ff00ff"/>
<path d="M1082.2 268.1L1107.7 254.9L1107.7 281.4Z" fill="#ff00ff"/>
<path d="M1104.3 262.5L1129.8 249.3L1129.8 275.8Z" fill="#ff00ff"/>
<path d="M1126.3 259.4L1151.8 246.2L1151.8 272.7Z" fill="#ff00ff"/>
<path d="M1148.4 255.0L1173.9 241.7L1173.9 268.2Z" fill="#ff00ff"/>
<path d="M1293.4 243.8L1318.9 230.5L1318.9 257.0Z" fill="#ff00ff"/>
<path d="M1297.8 243.6L1323.3 230.3L1323.3 256.8Z" fill="#ff00ff"/>
<path d="M1440.7 241.2L1466.2 227.9L1466.2 254.4Z" fill="#ff00ff"/>
<path d="M1445.1 241.1L1470.6 227.9L1470.6 254.4Z" fill="#ff00ff"/>
<path d="M1587.9 239.3L1613.4 226.0L1613.4 252.5Z" fill="#ff00ff"/>
<path d="M1592.3 239.2L1617.8 226.0L1617.8 252.5Z" fill="#ff00ff"/>
<path d="M1735.1 238.2L1760.6 224.9L1760.6 251.4Z" fill="#ff00ff"/>
<path d="M1739.5 238.1L1765.0 224.9L1765.0 251.4Z" fill="#ff00ff"/>
</g>
<g stroke="#000" stroke-width="3.2" fill="none">
<rect x="282.1" y="48.3" width="1472.2" height="1094.2"/>
<line x1="282.1" y1="1074.1" x2="293.4" y2="1074.1"/>
<line x1="282.1" y1="1005.7" x2="303.6" y2="1005.7"/>
<line x1="282.1" y1="937.3" x2="293.4" y2="937.3"/>
<line x1="282.1" y1="869.0" x2="303.6" y2="869.0"/>
<line x1="282.1" y1="800.6" x2="293.4" y2="800.6"/>
<line x1="282.1" y1="732.2" x2="303.6" y2="732.2"/>
<line x1="282.1" y1="663.8" x2="293.4" y2="663.8"/>
<line x1="282.1" y1="595.4" x2="303.6" y2="595.4"/>
<line x1="282.1" y1="527.0" x2="293.4" y2="527.0"/>
<line x1="282.1" y1="458.6" x2="303.6" y2="458.6"/>
<line x1="282.1" y1="390.2" x2="293.4" y2="390.2"/>
<line x1="282.1" y1="321.8" x2="303.6" y2="321.8"/>
<line x1="282.1" y1="253.5" x2="293.4" y2="253.5"/>
<line x1="282.1" y1="185.1" x2="303.6" y2="185.1"/>
<line x1="282.1" y1="116.7" x2="293.4" y2="116.7"/>
<line x1="466.1" y1="1142.5" x2="466.1" y2="1130.5"/>
<line x1="650.2" y1="1142.5" x2="650.2" y2="1121.0"/>
<line x1="834.2" y1="1142.5" x2="834.2" y2="1130.5"/>
<line x1="1202.2" y1="1142.5" x2="1202.2" y2="1130.5"/>
<line x1="1386.2" y1="1142.5" x2="1386.2" y2="1121.0"/>
<line x1="1570.3" y1="1142.5" x2="1570.3" y2="1130.5"/>
</g>
<g class="b" font-size="78" text-anchor="end" fill="#000">
<text x="258" y="1163.5">-200</text>
<text x="258" y="1026.7">-150</text>
<text x="258" y="890.0">-100</text>
<text x="258" y="753.2">-50</text>
<text x="258" y="616.4">0</text>
<text x="258" y="479.6">50</text>
<text x="258" y="342.8">100</text>
<text x="258" y="206.1">150</text>
<text x="258" y="69.3">200</text>
</g>
<g class="b" font-size="75" fill="#000">
<text x="190" y="1230" font-size="56">-</text><text x="206.5" y="1230">10,000</text>
<text x="568" y="1230">-5000</text>
<text x="1336" y="1230">5000</text>
<text x="1660.8" y="1230">10,000</text>
</g>
<text class="b" font-size="86" y="1304.4"><tspan x="926" font-style="italic">H</tspan><tspan x="1016" font-weight="normal">/</tspan><tspan x="1062">Oe</tspan></text>
<text class="b" font-size="86" transform="translate(102.5,792.5) rotate(-90)"><tspan font-style="italic">M</tspan> <tspan font-weight="normal">/</tspan> emu g<tspan font-size="52" dy="-46">-1</tspan></text>
<line x1="329.1" y1="105.8" x2="367.3" y2="105.8" stroke="#000000" stroke-width="1.3"/>
<line x1="408" y1="105.8" x2="446.2" y2="105.8" stroke="#000000" stroke-width="1.3"/>
<rect x="378.6" y="96.3" width="20.4" height="19.0" fill="#000000"/>
<text class="r" font-size="57" x="459.8" y="123.6" fill="#000">as-spun</text>
<line x1="329.1" y1="176.4" x2="367.3" y2="176.4" stroke="#ff0000" stroke-width="1.3"/>
<line x1="408" y1="176.4" x2="446.2" y2="176.4" stroke="#ff0000" stroke-width="1.3"/>
<ellipse cx="388.8" cy="176.4" rx="11.0" ry="10.8" fill="#ff0000"/>
<text class="r" font-size="55" y="192.8" fill="#000"><tspan x="459.0">764</tspan><tspan x="559.0">K</tspan><tspan x="600.0" dy="4" font-size="52">×</tspan><tspan x="643.7" dy="-4">90</tspan><tspan x="713.2">s</tspan></text>
<line x1="329.1" y1="247.1" x2="367.3" y2="247.1" stroke="#00ff00" stroke-width="1.3"/>
<line x1="408" y1="247.1" x2="446.2" y2="247.1" stroke="#00ff00" stroke-width="1.3"/>
<path d="M388.8 231.8L402.3 254.8L375.3 254.8Z" fill="#00ff00"/>
<text class="r" font-size="55" y="263.4" fill="#000"><tspan x="459.0">800</tspan><tspan x="559.0">K</tspan><tspan x="600.0" dy="4" font-size="52">×</tspan><tspan x="643.7" dy="-4">90</tspan><tspan x="713.2">s</tspan></text>
<line x1="329.1" y1="317.8" x2="367.3" y2="317.8" stroke="#0000ff" stroke-width="1.3"/>
<line x1="408" y1="317.8" x2="446.2" y2="317.8" stroke="#0000ff" stroke-width="1.3"/>
<path d="M388.8 334.4L402.3 309.4L375.3 309.4Z" fill="#0000ff"/>
<text class="r" font-size="55" y="334.1" fill="#000"><tspan x="459.0">880</tspan><tspan x="559.0">K</tspan><tspan x="600.0" dy="4" font-size="52">×</tspan><tspan x="643.7" dy="-4">90</tspan><tspan x="713.2">s</tspan></text>
<line x1="329.1" y1="388.4" x2="367.3" y2="388.4" stroke="#00ffff" stroke-width="1.3"/>
<line x1="408" y1="388.4" x2="446.2" y2="388.4" stroke="#00ffff" stroke-width="1.3"/>
<path d="M388.8 373.9L403.8 388.4L388.8 402.9L373.8 388.4Z" fill="#00ffff"/>
<text class="r" font-size="55" y="404.7" fill="#000"><tspan x="459.0">974</tspan><tspan x="559.0">K</tspan><tspan x="600.0" dy="4" font-size="52">×</tspan><tspan x="643.7" dy="-4">90</tspan><tspan x="713.2">s</tspan></text>
<line x1="329.1" y1="459.1" x2="367.3" y2="459.1" stroke="#ff00ff" stroke-width="1.3"/>
<line x1="408" y1="459.1" x2="446.2" y2="459.1" stroke="#ff00ff" stroke-width="1.3"/>
<path d="M371.8 459.1L397.3 446.1L397.3 472.1Z" fill="#ff00ff"/>
<text class="r" font-size="55" y="475.4" fill="#000"><tspan x="460.0">1151</tspan><tspan x="587.5">K</tspan><tspan x="628.5" dy="4" font-size="52">×</tspan><tspan x="672.2" dy="-4">90</tspan><tspan x="741.7">s</tspan></text>
<path d="M1152.5 1056.2V662.2H1665.5V1056.2" fill="none" stroke="#6e6e6e" stroke-width="2"/>
<line x1="1151.5" y1="1056.2" x2="1666.5" y2="1056.2" stroke="#2a2a2a" stroke-width="1.6"/>
<path d="M1188.3 1056.2V1049.7M1225.0 1056.2V1052.7M1261.7 1056.2V1049.7M1298.4 1056.2V1052.7M1335.1 1056.2V1049.7M1371.8 1056.2V1052.7M1408.6 1056.2V1049.7M1445.3 1056.2V1052.7M1482.0 1056.2V1049.7M1518.7 1056.2V1052.7M1555.4 1056.2V1049.7M1592.1 1056.2V1052.7M1628.8 1056.2V1049.7M1152.5 990.5H1156.0M1152.5 924.9H1159.0M1152.5 859.2H1156.0M1152.5 793.5H1159.0M1152.5 727.9H1156.0M1665.5 957.7H1662.0M1665.5 859.2H1659.0M1665.5 760.7H1662.0" stroke="#2a2a2a" stroke-width="1.6" fill="none"/>
<g class="b" font-size="33" fill="#000">
<text x="1144" y="1065.6" text-anchor="end">100</text>
<text x="1144" y="934.3" text-anchor="end">120</text>
<text x="1144" y="802.9" text-anchor="end">140</text>
<text x="1144" y="671.6" text-anchor="end">160</text>
<text x="1673.5" y="1066.4">0</text>
<text x="1673.5" y="869.4">1</text>
<text x="1673.5" y="672.4">2</text>
<text x="1188.3" y="1090" text-anchor="middle">0</text>
<text x="1261.7" y="1090" text-anchor="middle">200</text>
<text x="1335.1" y="1090" text-anchor="middle">400</text>
<text x="1408.6" y="1090" text-anchor="middle">600</text>
<text x="1482.0" y="1090" text-anchor="middle">800</text>
<text x="1555.4" y="1090" text-anchor="middle">1000</text>
<text x="1628.8" y="1090" text-anchor="middle">1200</text>
</g>
<text class="b" font-size="39" y="1126.8"><tspan x="1344" font-style="italic">Ta</tspan><tspan x="1396" font-weight="normal">/</tspan><tspan x="1417.5" font-size="40">K</tspan></text>
<text class="b" font-size="41" transform="translate(1074,956.2) rotate(-90)"><tspan font-style="italic">Ms</tspan> <tspan font-weight="normal">/</tspan> emu g<tspan font-size="14" dy="-2">-1</tspan></text>
<text class="b" font-size="40" transform="translate(1727.3,927.7) rotate(-90)"><tspan font-style="italic">Hc</tspan> <tspan font-weight="normal">/</tspan> Oe</text>
<path d="M1196.0 966.7L1461.1 893.5M1471.3 883.8L1479.4 859.6M1484.4 844.4L1508.9 767.0M1518.2 763.5L1539.0 775.7M1551.0 785.9L1605.7 851.7" stroke="#ff0000" stroke-width="2" fill="none"/>
<path d="M1188.3 962.6L1195.7 975.2L1180.9 975.2Z" fill="#ff0000"/>
<path d="M1468.8 885.1L1476.2 897.7L1461.4 897.7Z" fill="#ff0000"/>
<path d="M1482.0 845.7L1489.4 858.3L1474.6 858.3Z" fill="#ff0000"/>
<path d="M1511.3 753.1L1518.7 765.7L1503.9 765.7Z" fill="#ff0000"/>
<path d="M1545.9 773.4L1553.3 786.0L1538.5 786.0Z" fill="#ff0000"/>
<path d="M1610.8 851.6L1618.2 864.2L1603.4 864.2Z" fill="#ff0000"/>
<path d="M1196.3 1026.6L1460.8 1043.1M1489.9 1046.6L1503.4 1048.4M1513.5 1041.8L1543.7 936.2M1548.6 921.0L1608.1 760.3" stroke="#0000ff" stroke-width="2" fill="none"/>
<path d="M1188.3 1032.6L1195.9 1019.6L1180.7 1019.6Z" fill="#0000ff"/>
<path d="M1468.8 1050.1L1476.4 1037.1L1461.2 1037.1Z" fill="#0000ff"/>
<path d="M1482.0 1052.1L1489.6 1039.1L1474.4 1039.1Z" fill="#0000ff"/>
<path d="M1511.3 1056.0L1518.9 1043.0L1503.7 1043.0Z" fill="#0000ff"/>
<path d="M1545.9 935.0L1553.5 922.0L1538.3 922.0Z" fill="#0000ff"/>
<path d="M1610.8 759.3L1618.4 746.3L1603.2 746.3Z" fill="#0000ff"/>
<g fill="none" stroke-width="2">
<line x1="1159" y1="953.2" x2="1192.6" y2="953.2" stroke="#555"/>
<path d="M1170.5 944.4L1158.6 953.2L1170.5 961.8" stroke="#000" stroke-width="2.4"/>
<line x1="1623.8" y1="749.3" x2="1656" y2="749.3" stroke="#555"/>
<path d="M1644.6 740.4L1656.4 749.3L1644.6 758.4" stroke="#000" stroke-width="2.4"/>
</g>
</svg></body></html>
